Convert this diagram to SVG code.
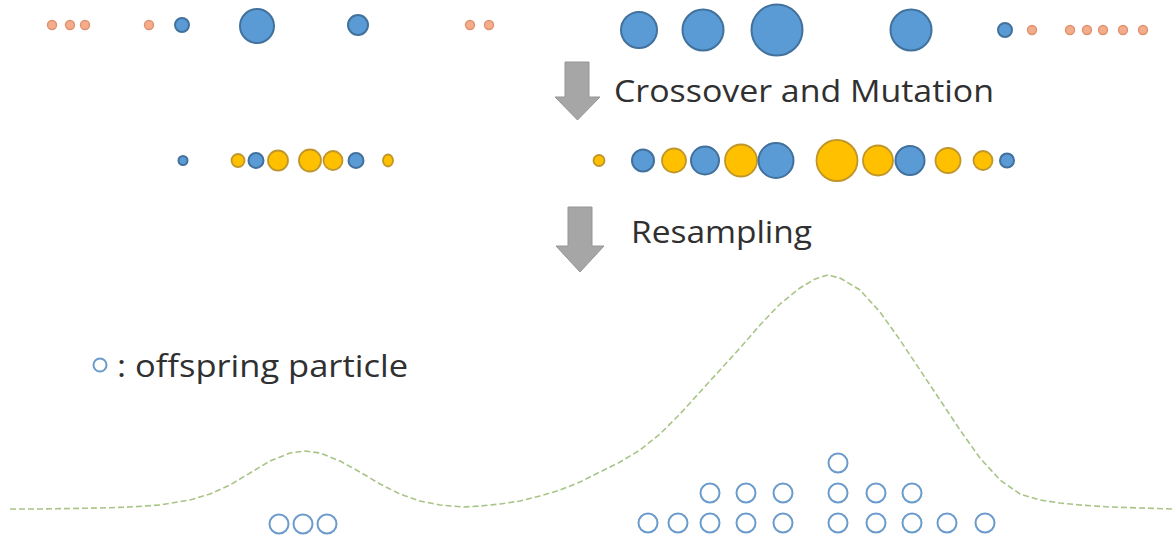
<svg xmlns="http://www.w3.org/2000/svg" width="1174" height="537" viewBox="0 0 1174 537">
  <style>
    .bg { fill: #ffffff; }
    .blue { fill: #5b9bd5; stroke: #41719c; stroke-width: 2; }
    .gold { fill: #ffc000; stroke: #c0962a; stroke-width: 1.8; }
    .pale { fill: #f3ad8c; stroke: #e0916c; stroke-width: 1.4; }
    .child { fill: none; stroke: #6a9bcc; stroke-width: 2; }
    .arrow { fill: #a6a6a6; stroke: #959595; stroke-width: 1; }
    .label { font-family: "Open Sans", "Liberation Sans", sans-serif; font-size: 31.5px; fill: #303030; }
    .density { fill: none; stroke: #a8c486; stroke-width: 1.6; stroke-dasharray: 6 3; }
  </style>

  <rect class="bg" x="0" y="0" width="1174" height="537"/>

  <!-- current particle population -->
  <g id="parents">
    <circle class="pale" cx="52" cy="25" r="4.5"/>
    <circle class="pale" cx="70" cy="25" r="4.5"/>
    <circle class="pale" cx="85" cy="25" r="4.5"/>
    <circle class="pale" cx="149" cy="25" r="4.5"/>
    <circle class="blue" cx="182" cy="25" r="7"/>
    <circle class="blue" cx="257" cy="26" r="17"/>
    <circle class="blue" cx="358" cy="25" r="10"/>
    <circle class="pale" cx="470" cy="25" r="4.5"/>
    <circle class="pale" cx="489" cy="25" r="4.5"/>
    <circle class="blue" cx="639" cy="30" r="18"/>
    <circle class="blue" cx="703" cy="30" r="20.5"/>
    <circle class="blue" cx="777" cy="30" r="25.5"/>
    <circle class="blue" cx="911" cy="30" r="20.5"/>
    <circle class="blue" cx="1005" cy="30" r="7"/>
    <circle class="pale" cx="1032" cy="30" r="4.5"/>
    <circle class="pale" cx="1070" cy="30" r="4.5"/>
    <circle class="pale" cx="1087" cy="30" r="4.5"/>
    <circle class="pale" cx="1103" cy="30" r="4.5"/>
    <circle class="pale" cx="1123" cy="30" r="4.5"/>
    <circle class="pale" cx="1143" cy="30" r="4.5"/>
  </g>

  <!-- population after crossover and mutation -->
  <g id="children">
    <circle class="blue" cx="183" cy="160.5" r="4.5"/>
    <circle class="gold" cx="238" cy="160.5" r="6.5"/>
    <circle class="blue" cx="256" cy="160.5" r="7.5"/>
    <circle class="gold" cx="278" cy="160.5" r="10"/>
    <circle class="gold" cx="310" cy="160.5" r="11"/>
    <circle class="gold" cx="333" cy="160.5" r="9.5"/>
    <circle class="blue" cx="356" cy="160.5" r="7.5"/>
    <ellipse class="gold" cx="388" cy="160.5" rx="5" ry="6"/>
    <circle class="gold" cx="599" cy="160.5" r="5.5"/>
    <circle class="blue" cx="643" cy="160.5" r="11"/>
    <circle class="gold" cx="674" cy="160.5" r="12"/>
    <circle class="blue" cx="705" cy="160.5" r="14"/>
    <circle class="gold" cx="741" cy="160.5" r="16"/>
    <circle class="blue" cx="776" cy="160.5" r="17.5"/>
    <circle class="gold" cx="837" cy="160.5" r="20.5"/>
    <circle class="gold" cx="878" cy="160.5" r="15"/>
    <circle class="blue" cx="910" cy="160.5" r="14.5"/>
    <circle class="gold" cx="948" cy="160.5" r="12.5"/>
    <circle class="gold" cx="983" cy="160.5" r="9.5"/>
    <circle class="blue" cx="1007" cy="160.5" r="7"/>
  </g>

  <!-- step arrows -->
  <g id="connectors">
    <path class="arrow" d="M565,62 H589 V97 H600 L577.5,120 L555,97 H565 Z"/>
    <path class="arrow" d="M568,207 H592 V246 H604 L580,272 L556,246 H568 Z"/>
  </g>

  <g id="step-labels">
    <text class="label" x="614" y="102" textLength="380" lengthAdjust="spacingAndGlyphs">Crossover and Mutation</text>
    <text class="label" x="631" y="243" textLength="181" lengthAdjust="spacingAndGlyphs">Resampling</text>
  </g>

  <!-- target density -->
  <g id="density">
    <path class="density" d="M10,509 L40,509 L70,508.5 L100,508 L130,507 L160,505 L190,500 L210,494 L230,485 L250,473 L270,461 L290,453 L305,451 L320,453 L340,461 L360,472 L380,484 L400,494 L420,501 L440,505 L464,507 L480,506 L500,504 L520,501 L540,496 L560,490 L580,482 L600,472 L620,462 L640,450 L660,434 L680,414 L700,392 L720,370 L740,348 L760,325 L780,304 L800,288 L815,279 L828,275 L840,278 L860,290 L880,312 L900,340 L920,370 L940,400 L960,430 L980,458 L1000,480 L1020,494 L1040,500 L1060,503 L1080,505 L1110,507 L1140,508 L1174,509"/>
  </g>

  <!-- legend -->
  <g id="legend">
    <circle class="child" cx="100" cy="365" r="6.5" stroke-width="1.6"/>
    <text class="label" x="117" y="377" textLength="291" lengthAdjust="spacingAndGlyphs">: offspring particle</text>
  </g>

  <!-- resampled offspring -->
  <g id="offspring">
    <circle class="child" cx="279" cy="524" r="9.5"/>
    <circle class="child" cx="303" cy="524" r="9.5"/>
    <circle class="child" cx="327" cy="524" r="9.5"/>
    <circle class="child" cx="838" cy="463" r="9.5"/>
    <circle class="child" cx="710" cy="493" r="9.5"/>
    <circle class="child" cx="746" cy="493" r="9.5"/>
    <circle class="child" cx="783" cy="493" r="9.5"/>
    <circle class="child" cx="838" cy="493" r="9.5"/>
    <circle class="child" cx="876" cy="493" r="9.5"/>
    <circle class="child" cx="912" cy="493" r="9.5"/>
    <circle class="child" cx="648" cy="523" r="9.5"/>
    <circle class="child" cx="678" cy="523" r="9.5"/>
    <circle class="child" cx="710" cy="523" r="9.5"/>
    <circle class="child" cx="746" cy="523" r="9.5"/>
    <circle class="child" cx="783" cy="523" r="9.5"/>
    <circle class="child" cx="838" cy="523" r="9.5"/>
    <circle class="child" cx="876" cy="523" r="9.5"/>
    <circle class="child" cx="912" cy="523" r="9.5"/>
    <circle class="child" cx="947" cy="523" r="9.5"/>
    <circle class="child" cx="985" cy="523" r="9.5"/>
  </g>
</svg>
